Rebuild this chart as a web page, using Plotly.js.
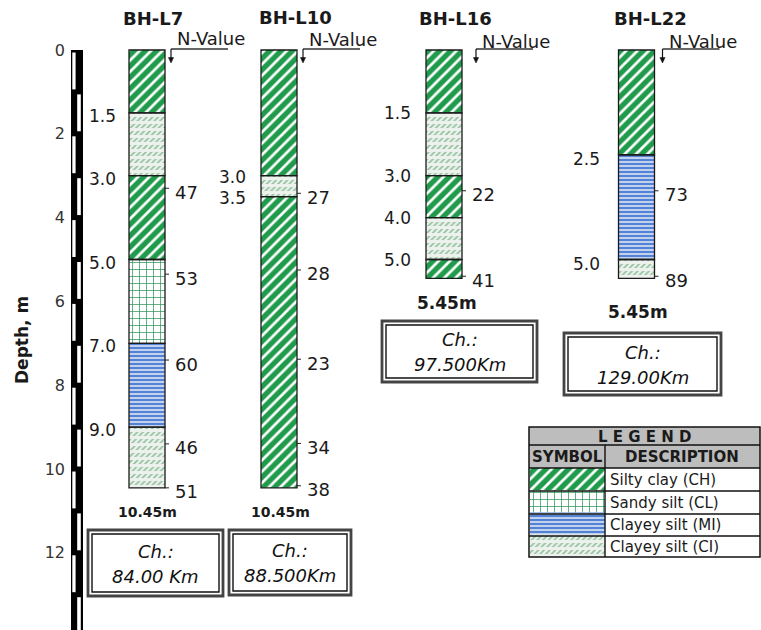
<!DOCTYPE html>
<html><head><meta charset="utf-8">
<script src="https://cdn.plot.ly/plotly-3.0.1.min.js"></script>
<style>html,body{margin:0;padding:0;background:#fff}#chart{width:761px;height:630px}</style>
</head><body><div id="chart"></div>
<script>
// ---------------- DATA ----------------
const boreholeNames = ['BH-L7', 'BH-L10', 'BH-L16', 'BH-L22'];
const chainages = ['84.00 Km', '88.500Km', '97.500Km', '129.00Km'];
const finalDepthLabels = ['10.45m', '10.45m', '5.45m', '5.45m'];

const topsL7 = [0, 1.5, 3.0, 5.0, 7.0, 9.0];
const botsL7 = [1.5, 3.0, 5.0, 7.0, 9.0, 10.45];
const soilL7 = ['CH', 'CI', 'CH', 'CL', 'MI', 'CI'];
const nDepthL7 = [3.3, 5.35, 7.4, 9.4, 10.45];
const nValueL7 = [47, 53, 60, 46, 51];

const topsL10 = [0, 3.0, 3.5];
const botsL10 = [3.0, 3.5, 10.45];
const soilL10 = ['CH', 'CI', 'CH'];
const nDepthL10 = [3.42, 5.25, 7.38, 9.39, 10.4];
const nValueL10 = [27, 28, 23, 34, 38];

const topsL16 = [0, 1.5, 3.0, 4.0, 5.0];
const botsL16 = [1.5, 3.0, 4.0, 5.0, 5.45];
const soilL16 = ['CH', 'CI', 'CH', 'CI', 'CH'];
const nDepthL16 = [3.36, 5.4];
const nValueL16 = [22, 41];

const topsL22 = [0, 2.5, 5.0];
const botsL22 = [2.5, 5.0, 5.45];
const soilL22 = ['CH', 'MI', 'CI'];
const nDepthL22 = [3.36, 5.4];
const nValueL22 = [73, 89];

const depthTicks = [0, 2, 4, 6, 8, 10, 12];
const legendSoils = ['CH', 'CL', 'MI', 'CI'];
const legendDescriptions = ['Silty clay (CH)', 'Sandy silt (CL)', 'Clayey silt (MI)', 'Clayey silt (CI)'];

// ---------------- LAYOUT CONSTANTS ----------------
const W = 761, H = 630, PX0 = 66;
const D0 = 50, PPM = 41.9;                 // depth 0 pixel row, pixels per metre
const yRange = [(H - D0) / PPM, -D0 / PPM];
const yPaper = p => 1 - p / H;
const xPaper = p => (p - PX0) / (W - PX0);
const FONT = 'DejaVu Sans, Arial, sans-serif';
const TXT = '#1a1a1a';

const colCenter = [147, 279, 444, 636.5];
const colWidth = 36;
const titleX = [153, 295, 455, 650];
const titleY = [18, 17, 18, 18];
const labelGap = [11, 13, 13, 17];
const labelShift = [-3, -1, 0, -4];
const arrowOff = [6, 6, 14, 8];
const nvTextY = [38, 39, 42, 42];
const finalLabelPos = [[147, 512, 14], [280, 512, 14], [447, 303, 17], [638, 312, 17]];
const chBoxes = [[88, 223, 530, 596], [229, 351, 530, 595], [382, 537, 321, 382], [564, 721, 333, 395]];

const soilStyle = {
  CH: {shape: '/', bg: '#1f9b4b', fg: '#ffffff', size: 8, solidity: 0.34},
  CL: {shape: '+', bg: '#ffffff', fg: '#2f945a', size: 7, solidity: 0.2},
  MI: {shape: '-', bg: '#5482d4', fg: '#ffffff', size: 4, solidity: 0.32},
  CI: {shape: '/', bg: '#eef2ee', fg: '#8fbf9c', size: 4, solidity: 0.4}
};
const ciBands = {shape: '-', bg: 'rgba(0,0,0,0)', fg: '#eef2ee', size: 7, solidity: 0.42};

const boreholes = [
  {tops: topsL7, bots: botsL7, soil: soilL7, nd: nDepthL7, nv: nValueL7},
  {tops: topsL10, bots: botsL10, soil: soilL10, nd: nDepthL10, nv: nValueL10},
  {tops: topsL16, bots: botsL16, soil: soilL16, nd: nDepthL16, nv: nValueL16},
  {tops: topsL22, bots: botsL22, soil: soilL22, nd: nDepthL22, nv: nValueL22}
];

// ---------------- TRACES ----------------
const traces = [];
function pat(s) {
  return {shape: s.shape, bgcolor: s.bg, fgcolor: s.fg, size: s.size, solidity: s.solidity, fillmode: 'replace'};
}
function layerTrace(soil, style) {
  const x = [], y = [], base = [];
  boreholes.forEach((b, i) => b.soil.forEach((s, j) => {
    if (soil === null || s === soil) { x.push(colCenter[i]); base.push(b.tops[j]); y.push(b.bots[j] - b.tops[j]); }
  }));
  return {type: 'bar', x, y, base, width: colWidth, xaxis: 'x', yaxis: 'y', hoverinfo: 'skip', showlegend: false,
    marker: style ? {color: style.bg, line: {width: 0}, pattern: pat(style)}
                  : {color: 'rgba(0,0,0,0)', line: {color: '#1a1a1a', width: 1.3}}};
}
['CH', 'CL', 'MI', 'CI'].forEach(s => traces.push(layerTrace(s, soilStyle[s])));
traces.push(layerTrace('CI', ciBands));
traces.push(layerTrace(null, null));

// N-value tick marks
boreholes.forEach((b, i) => {
  const xr = colCenter[i] + colWidth / 2;
  const x = [], y = [];
  b.nd.forEach(d => { x.push(xr, xr + 4, null); y.push(d, d, null); });
  traces.push({type: 'scatter', mode: 'lines', x, y, line: {color: '#222', width: 1}, hoverinfo: 'skip', showlegend: false});
});

// legend symbols
legendSoils.forEach((s, i) => {
  traces.push({type: 'bar', orientation: 'h', x: [1], y: [i], base: [0], width: 1, xaxis: 'x2', yaxis: 'y2',
    hoverinfo: 'skip', showlegend: false, marker: {color: soilStyle[s].bg, line: {width: 0}, pattern: pat(soilStyle[s])}});
  if (s === 'CI') traces.push({type: 'bar', orientation: 'h', x: [1], y: [i], base: [0], width: 1, xaxis: 'x2', yaxis: 'y2',
    hoverinfo: 'skip', showlegend: false, marker: {color: ciBands.bg, line: {width: 0}, pattern: pat(ciBands)}});
});

// ---------------- SHAPES & ANNOTATIONS ----------------
const shapes = [], annotations = [];
function txtP(x, yPx, text, size, opts) {
  annotations.push(Object.assign({xref: 'x', yref: 'paper', x, y: yPaper(yPx), text, showarrow: false,
    font: {family: FONT, size, color: TXT}, xanchor: 'center', yanchor: 'middle'}, opts || {}));
}
function txtD(x, depth, text, size, opts) {
  annotations.push(Object.assign({xref: 'x', yref: 'y', x, y: depth, text, showarrow: false,
    font: {family: FONT, size, color: TXT}, xanchor: 'center', yanchor: 'middle'}, opts || {}));
}
function rectP(x0, x1, y0, y1, fill, lc, lw) {
  shapes.push({type: 'rect', xref: 'x', yref: 'paper', x0, x1, y0: yPaper(y1), y1: yPaper(y0),
    fillcolor: fill || 'rgba(0,0,0,0)', line: {color: lc || '#000', width: lw || 0}});
}
function lineP(x0, y0, x1, y1, lc, lw) {
  shapes.push({type: 'line', xref: 'x', yref: 'paper', x0, x1, y0: yPaper(y0), y1: yPaper(y1), line: {color: lc, width: lw}});
}

// depth scale bar
shapes.push({type: 'rect', xref: 'x', yref: 'y', x0: 71, x1: 83, y0: 0, y1: yRange[0], fillcolor: '#000', line: {width: 0}});
for (let i = 0; i < Math.ceil(yRange[0]); i++) {
  const left = i % 2 === 0;
  shapes.push({type: 'rect', xref: 'x', yref: 'y', x0: left ? 72.3 : 77.2, x1: left ? 75.6 : 80.8,
    y0: i + 0.06, y1: Math.min(i + 0.94, yRange[0]), fillcolor: '#fff', line: {width: 0}});
}
annotations.push({xref: 'paper', yref: 'paper', x: xPaper(22), y: yPaper(340), text: '<b>Depth, m</b>', textangle: -90,
  showarrow: false, font: {family: FONT, size: 17, color: TXT}, xanchor: 'center', yanchor: 'middle'});

boreholes.forEach((b, i) => {
  const xl = colCenter[i] - colWidth / 2, xr = colCenter[i] + colWidth / 2;
  txtP(titleX[i], titleY[i], '<b>' + boreholeNames[i] + '</b>', 18);
  // N-Value header with arrow
  const ax = xr + arrowOff[i];
  txtP(ax + 4, nvTextY[i], 'N-Value', 18, {xanchor: 'left'});
  lineP(ax, 49, ax + 57, 49, '#333', 1.3);
  lineP(ax, 49, ax, 59, '#111', 1.2);
  shapes.push({type: 'path', xref: 'x', yref: 'paper',
    path: `M ${ax - 2.6},${yPaper(57.5)} L ${ax + 2.6},${yPaper(57.5)} L ${ax},${yPaper(63)} Z`,
    fillcolor: '#111', line: {color: '#111', width: 0.5}});
  // boundary depth labels
  b.tops.slice(1).forEach(d => txtD(xl - labelGap[i], d, d.toFixed(1), 17, {xanchor: 'right', yshift: labelShift[i]}));
  // N values
  b.nd.forEach((d, k) => txtD(xr + 8, d, String(b.nv[k]), 18, {xanchor: 'left', yshift: -4}));
  // final depth
  const f = finalLabelPos[i];
  txtP(f[0], f[1], '<b>' + finalDepthLabels[i] + '</b>', f[2]);
  // chainage box
  const c = chBoxes[i];
  rectP(c[0], c[1], c[2], c[3], '#fff', '#444', 2.8);
  rectP(c[0] + 4, c[1] - 4, c[2] + 4, c[3] - 4, 'rgba(0,0,0,0)', '#111', 1.4);
  const cy = (c[2] + c[3]) / 2;
  const cx = (c[0] + c[1]) / 2;
  txtP(cx, cy - 12, '<i>Ch.:</i>', 18, {font: {family: FONT, size: 18, color: '#111'}});
  txtP(cx, cy + 13, '<i>' + chainages[i] + '</i>', 18, {font: {family: FONT, size: 18, color: '#111'}});
});

// legend table
rectP(529, 760, 427, 468, '#bdbdbd', '#000', 0);
rectP(529, 760, 427, 557, 'rgba(0,0,0,0)', '#111', 1.5);
[445, 468, 491, 514, 536].forEach(yy => lineP(529, yy, 760, yy, '#111', 1.4));
lineP(605, 445, 605, 557, '#111', 1.4);
txtP(644, 436.5, '<b>L E G E N D</b>', 15);
txtP(567, 457, '<b>SYMBOL</b>', 15);
txtP(682, 457, '<b>DESCRIPTION</b>', 15);
const rowMid = [479.5, 502.5, 525, 546.5];
legendDescriptions.forEach((t, i) => txtP(608, rowMid[i], t, 15, {xanchor: 'left'}));

const layout = {
  width: W, height: H, margin: {l: PX0, r: 0, t: 0, b: 0}, paper_bgcolor: '#fff', plot_bgcolor: 'rgba(0,0,0,0)',
  barmode: 'overlay', showlegend: false,
  xaxis: {range: [PX0, W], visible: false, fixedrange: true},
  yaxis: {range: yRange, tickvals: depthTicks, ticktext: depthTicks.map(String), showgrid: false, zeroline: false,
    showline: false, ticks: '', tickfont: {family: FONT, size: 16, color: '#333'}, fixedrange: true},
  xaxis2: {domain: [xPaper(530), xPaper(605)], range: [0, 1], anchor: 'y2', visible: false, fixedrange: true},
  yaxis2: {domain: [yPaper(557), yPaper(468)], range: [3.5, -0.5], anchor: 'x2', visible: false, fixedrange: true},
  shapes, annotations
};
Plotly.newPlot('chart', traces, layout, {staticPlot: true, displayModeBar: false});
</script></body></html>
